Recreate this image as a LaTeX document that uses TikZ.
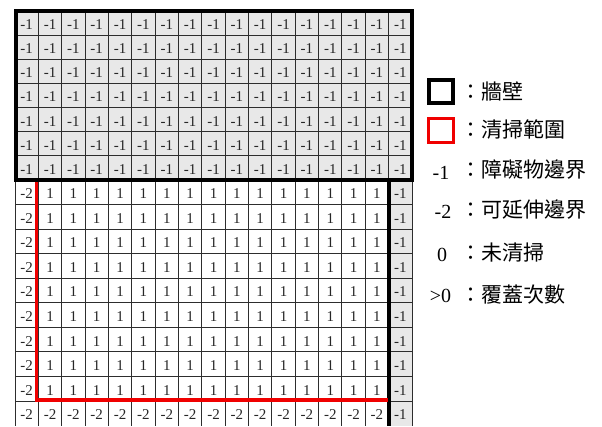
\documentclass[tikz,border=0pt]{standalone}
\usepackage{fontspec}
\setmainfont{Liberation Serif}
\newfontfamily\cjk{Noto Sans CJK TC}
\definecolor{cellgray}{RGB}{232,232,232}
\definecolor{gridline}{RGB}{45,45,45}
\definecolor{wallred}{RGB}{240,0,0}
\begin{document}
\begin{tikzpicture}[x=1pt,y=-1pt,
  cell/.style={inner sep=0pt, text=black!85, font=\fontsize{15}{15}\selectfont, yshift=-1.5pt},
  gridthin/.style={draw=gridline, line width=0.9pt},
  wall/.style={draw=black, line width=4pt},
  cleanline/.style={draw=wallred, line width=3.8pt},
  legtxt/.style={inner sep=0pt, anchor=west, font=\cjk\fontsize{21}{21}\selectfont},
  legnum/.style={inner sep=0pt, font=\fontsize{20}{20}\selectfont}]
\useasboundingbox (0,0) rectangle (602,426);
% gray fills
\fill[cellgray] (15,11) rectangle (412,180);
\fill[cellgray] (389,180) rectangle (412,426);
% thin grid lines
\foreach \i in {0,...,17}{
  \draw[gridthin] ({15+\i*23.353},11) -- ({15+\i*23.353},426);
}
\foreach \k in {1,...,6}{
  \draw[gridthin] (15,{11+\k*24.143}) -- (412,{11+\k*24.143});
}
\foreach \k in {1,...,9}{
  \draw[gridthin] (15,{180+\k*24.556}) -- (412,{180+\k*24.556});
}
% cell labels
\foreach \r in {1,...,17}{
  \pgfmathsetmacro\yc{\r<8 ? 11+(\r-0.5)*24.143 : (\r<17 ? 180+(\r-7.5)*24.556 : 413.5)}
  \foreach \c in {1,...,17}{
    \pgfmathsetmacro\xc{15+(\c-0.5)*23.353}
    \ifnum\r<8 \def\lab{-1}\else
      \ifnum\c=17 \def\lab{-1}\else
        \ifnum\r=17 \def\lab{-2}\else
          \ifnum\c=1 \def\lab{-2}\else\def\lab{1}\fi
        \fi
      \fi
    \fi
    \node[cell] (c-\r-\c) at (\xc,\yc) {\lab};
  }
}
% wall
\draw[wall] (15.6,11) rectangle (411.6,180);
\draw[wall] (389,180) -- (389,426);
% cleaning range
\draw[cleanline] (36.5,182) -- (36.5,400) -- (388,400);
% legend
\draw[wall, line width=3.8pt] (429.2,80.2) rectangle (453.1,103.1);
\draw[cleanline, line width=3pt] (428.8,118.8) rectangle (453.5,142.5);
\node[legtxt] (t1) at (460,91) {：牆壁};
\node[legtxt] (t2) at (460,130) {：清掃範圍};
\node[legtxt] (t3) at (460,169.5) {：障礙物邊界};
\node[legtxt] (t4) at (460,209.5) {：可延伸邊界};
\node[legtxt] (t5) at (460,252.5) {：未清掃};
\node[legtxt] (t6) at (460,295) {：覆蓋次數};
\node[legnum] (n1) at (441,172.5) {-1};
\node[legnum] (n2) at (443,211.5) {-2};
\node[legnum] (n3) at (442,255) {0};
\node[legnum] (n4) at (440.5,295.5) {>0};
\end{tikzpicture}
\end{document}
